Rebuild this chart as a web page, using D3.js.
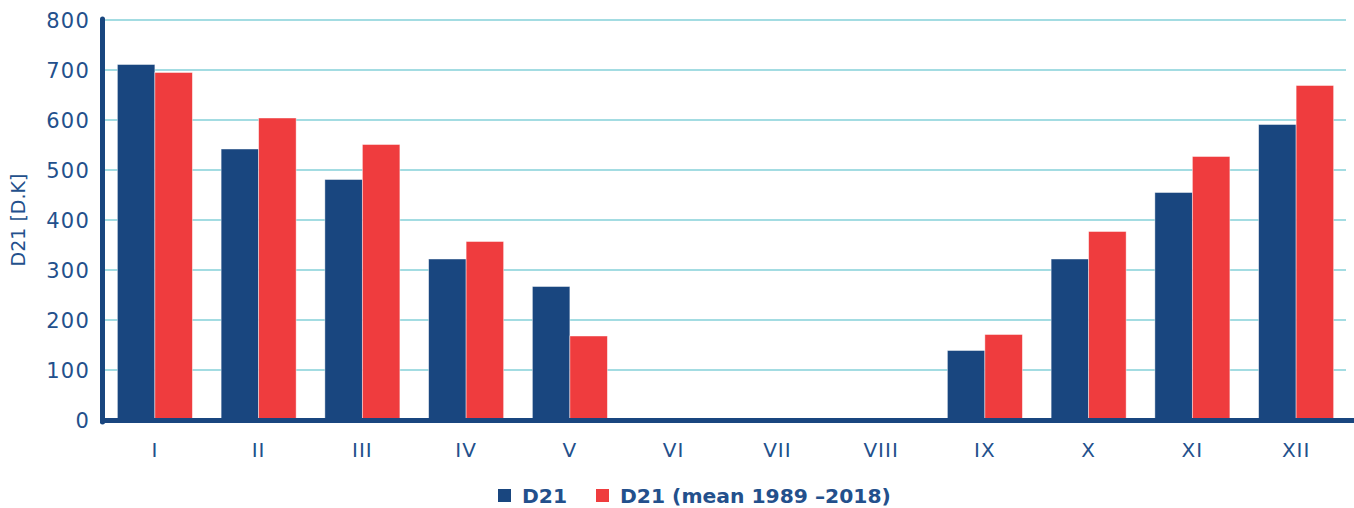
<!DOCTYPE html>
<html><head><meta charset="utf-8">
<script src="https://cdn.jsdelivr.net/npm/d3@7"></script>
<style>body{margin:0;background:#fff}svg{display:block}text{font-family:"DejaVu Sans",sans-serif}</style>
</head><body><svg id="c" width="1354" height="508"></svg>
<script>
const months = ["I","II","III","IV","V","VI","VII","VIII","IX","X","XI","XII"];
const d21 = [711,542,481,322,267,0,0,0,139,322,455,591];
const d21Mean = [695,604,551,357,168,0,0,0,171,377,527,669];
const yTicks = [0,100,200,300,400,500,600,700,800];
const seriesNames = ["D21","D21 (mean 1989 \u20132018)"];
const colors = ["#19467f","#ef3c3e"];
const textColor = "#23508c";

const svg = d3.select("#c");
const y = d3.scaleLinear().domain([0,800]).range([420,20]);
const x = d3.scaleBand().domain(months).range([103,1348]).paddingInner(0.277).paddingOuter(0.1385);
const xs = d3.scaleBand().domain([0,1]).range([0,x.bandwidth()]);

// gridlines
svg.append("g").selectAll("line").data(yTicks.filter(d=>d>0)).join("line")
  .attr("x1",104).attr("x2",1346).attr("y1",d=>y(d)).attr("y2",d=>y(d))
  .attr("stroke","#84d0d9").attr("stroke-width",1.6);

// y tick labels
svg.append("g").selectAll("text").data(yTicks).join("text")
  .attr("x",90).attr("y",d=>y(d)).attr("dy","0.36em").attr("text-anchor","end")
  .attr("fill",textColor).attr("font-size",21).attr("letter-spacing",1.2).text(d=>d);

// bars
const series = [d21, d21Mean];
series.forEach((vals,si)=>{
  const data = vals.map((v,i)=>({m:months[i],v})).filter(d=>d.v>0);
  svg.append("g").selectAll("rect").data(data).join("rect")
    .attr("x",d=>x(d.m)+xs(si)).attr("width",xs.bandwidth())
    .attr("y",d=>y(d.v)).attr("height",d=>y(0)-y(d.v))
    .attr("fill",colors[si]).attr("stroke","rgba(255,255,255,0.55)").attr("stroke-width",0.8);
});

// axes lines
svg.append("line").attr("x1",102.5).attr("x2",102.5).attr("y1",19).attr("y2",422)
  .attr("stroke","#19467f").attr("stroke-width",5).attr("stroke-linecap","round");
svg.append("line").attr("x1",100).attr("x2",1354).attr("y1",420.5).attr("y2",420.5)
  .attr("stroke","#19467f").attr("stroke-width",5);

// x tick labels
svg.append("g").selectAll("text").data(months).join("text")
  .attr("x",d=>x(d)+x.bandwidth()/2).attr("y",450).attr("dy","0.36em").attr("text-anchor","middle")
  .attr("fill",textColor).attr("font-size",20).attr("letter-spacing",1).text(d=>d);

// y title
svg.append("text").attr("transform","translate(18,220) rotate(-90)").attr("text-anchor","middle")
  .attr("dy","0.36em").attr("fill",textColor).attr("font-size",19).text("D21 [D.K]");

// legend
const leg = [{x:498,tx:522},{x:596,tx:620}];
leg.forEach((l,i)=>{
  svg.append("rect").attr("x",l.x).attr("y",489).attr("width",13).attr("height",13).attr("fill",colors[i]);
  svg.append("text").attr("x",l.tx).attr("y",496).attr("dy","0.36em").attr("fill",textColor)
    .attr("font-size",20.3).attr("font-weight","bold").text(seriesNames[i]);
});
</script></body></html>
